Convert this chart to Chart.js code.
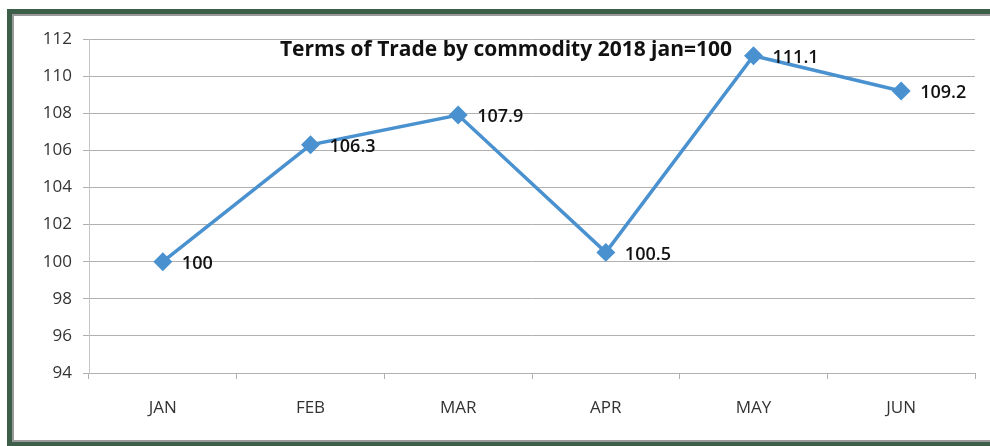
<!DOCTYPE html>
<html>
<head>
<meta charset="utf-8">
<script src="https://cdn.jsdelivr.net/npm/chart.js@4"></script>
<style>
  html, body { margin: 0; padding: 0; background: #fff; overflow: hidden; }
  #frame {
    position: absolute; left: 7px; top: 9px; width: 1100px; height: 438px;
    border: 5px solid #3d5f4a; box-shadow: inset 0 0 0 2px #9a9a9a;
    box-sizing: border-box;
  }
  #wrap { position: absolute; left: 0; top: 0; width: 990px; height: 446px; }
</style>
</head>
<body>
<div id="frame"></div>
<div id="wrap"><canvas id="myChart" width="990" height="446"></canvas></div>
<script>
// data block
const months = ['JAN', 'FEB', 'MAR', 'APR', 'MAY', 'JUN'];
const tradeIndex = [100, 106.3, 107.9, 100.5, 111.1, 109.2];
const yTicks = [94, 96, 98, 100, 102, 104, 106, 108, 110, 112];
const chartTitle = 'Terms of Trade by commodity 2018 jan=100';

// labels + title drawn on top of the chart
const labelPlugin = {
    id: 'labelPlugin',
    afterDatasetsDraw(chart) {
        const ctx = chart.ctx;
        const meta = chart.getDatasetMeta(0);
        ctx.save();
        ctx.fillStyle = '#111';
        ctx.font = '600 18px "Open Sans"';
        ctx.textAlign = 'left';
        ctx.textBaseline = 'middle';
        meta.data.forEach((pt, i) => {
            ctx.fillText(String(tradeIndex[i]), pt.x + 19, pt.y + 2);
        });
        ctx.font = 'bold 21px "Open Sans"';
        ctx.textAlign = 'center';
        ctx.fillText(chartTitle, 506, 50);
        ctx.restore();
    }
};

const ctx = document.getElementById('myChart').getContext('2d');
const myChart = new Chart(ctx, {
    type: 'line',
    data: {
        labels: months,
        datasets: [{
            data: tradeIndex,
            borderColor: '#4a91d0',
            backgroundColor: '#4a91d0',
            borderWidth: 3.5,
            pointStyle: 'rectRot',
            pointRadius: 7,
            pointHoverRadius: 7,
            tension: 0
        }]
    },
    options: {
        responsive: false,
        animation: false,
        layout: { padding: { left: 0, right: 15, top: 39, bottom: 0 } },
        plugins: {
            legend: { display: false },
            title: { display: false },
            tooltip: { enabled: false }
        },
        scales: {
            x: {
                offset: true,
                grid: { offset: true, drawOnChartArea: false, tickLength: 6, color: '#b0b0b0' },
                border: { color: '#b0b0b0' },
                ticks: { color: '#333', font: { family: 'Open Sans', size: 17 }, padding: 19 },
                afterFit: scale => { scale.height = 73; }
            },
            y: {
                min: 94,
                max: 112,
                afterBuildTicks: scale => { scale.ticks = yTicks.map(v => ({ value: v })); },
                grid: { color: '#b0b0b0', tickLength: 6 },
                border: { color: '#c4c4c4' },
                ticks: { color: '#333', font: { family: 'Open Sans', size: 17 }, padding: 11 },
                afterFit: scale => { scale.width = 89; }
            }
        }
    },
    plugins: [labelPlugin]
});
</script>
</body>
</html>
